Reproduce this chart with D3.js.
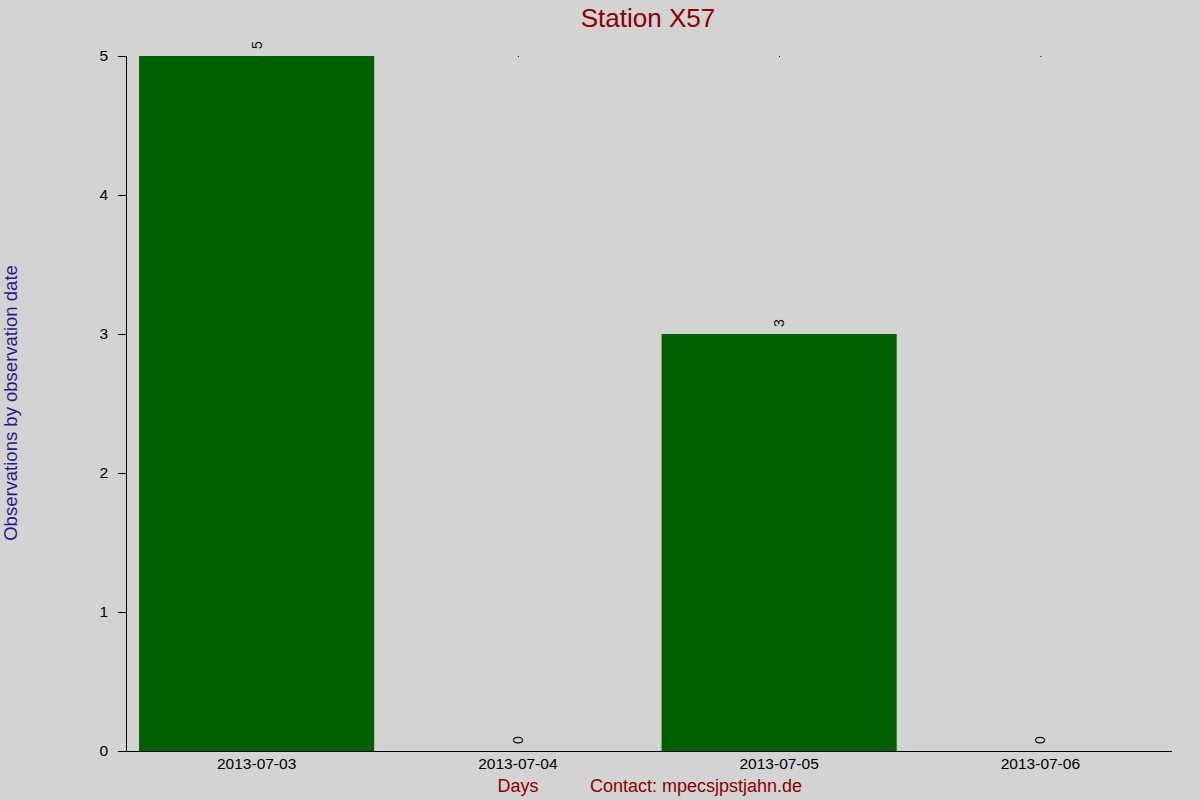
<!DOCTYPE html>
<html>
<head>
<meta charset="utf-8">
<script src="https://cdn.jsdelivr.net/npm/d3@7"></script>
<style>
  body { margin: 0; background: #d3d3d3; }
  svg { display: block; font-family: "Liberation Sans", Arial, sans-serif; }
</style>
</head>
<body>
<div id="container"></div>
<script>
// chart data
const days = ['2013-07-03', '2013-07-04', '2013-07-05', '2013-07-06'];
const counts = [5, 0, 3, 0];
const yTicks = [0, 1, 2, 3, 4, 5];

const svgWidth = 1200;
const svgHeight = 800;
const plotLeft = 126, plotRight = 1171, plotTop = 56, plotBottom = 751;

const svg = d3.select('#container')
  .append('svg')
  .attr('width', svgWidth)
  .attr('height', svgHeight);

svg.append('rect')
  .attr('width', svgWidth)
  .attr('height', svgHeight)
  .attr('fill', '#d3d3d3');

const xScale = d3.scaleBand()
  .domain(days)
  .range([plotLeft, plotRight])
  .paddingInner(0.1)
  .paddingOuter(0.05);

const yScale = d3.scaleLinear()
  .domain([0, 5])
  .range([plotBottom, plotTop]);

// bars
svg.selectAll('rect.bar')
  .data(days)
  .enter()
  .append('rect')
  .attr('class', 'bar')
  .attr('x', d => xScale(d))
  .attr('y', (d, i) => yScale(counts[i]))
  .attr('width', xScale.bandwidth())
  .attr('height', (d, i) => yScale(0) - yScale(counts[i]))
  .attr('fill', '#006000');

// tiny marks at the top of the plot
svg.selectAll('rect.dot')
  .data(days)
  .enter()
  .append('rect')
  .attr('class', 'dot')
  .attr('x', d => xScale(d) + xScale.bandwidth() / 2)
  .attr('y', yScale(5))
  .attr('width', 1)
  .attr('height', 1)
  .attr('fill', '#000');

// value labels, rotated
svg.selectAll('text.val')
  .data(days)
  .enter()
  .append('text')
  .attr('class', 'val')
  .attr('transform', (d, i) => {
    const x = xScale(d) + xScale.bandwidth() / 2;
    const y = yScale(counts[i]) - 7;
    return `translate(${x},${y}) rotate(-90)`;
  })
  .attr('dy', '0.35em')
  .attr('font-size', 14)
  .attr('fill', '#111')
  .text((d, i) => counts[i]);

// axes
const xAxis = d3.axisBottom(xScale).tickSize(0).tickPadding(7);
const gx = svg.append('g')
  .attr('id', 'x-axis')
  .attr('transform', `translate(0, ${plotBottom})`)
  .call(xAxis);
gx.select('.domain').attr('d', `M${plotLeft - 8},0.5H${plotRight + 1}`).attr('stroke', '#000');
gx.selectAll('text').attr('font-size', 15.5).attr('fill', '#000')
  .style('font-family', '"Liberation Sans", Arial, sans-serif');

const yAxis = d3.axisLeft(yScale).tickValues(yTicks).tickSize(8).tickPadding(10).tickFormat(d3.format('d'));
const gy = svg.append('g')
  .attr('id', 'y-axis')
  .attr('transform', `translate(${plotLeft}, 0)`)
  .call(yAxis);
gy.select('.domain').attr('d', `M0.5,${plotTop}V${plotBottom}`).attr('stroke', '#000');
gy.selectAll('text').attr('font-size', 15.5).attr('fill', '#000')
  .style('font-family', '"Liberation Sans", Arial, sans-serif');

// titles
svg.append('text')
  .attr('x', 648)
  .attr('y', 27)
  .attr('text-anchor', 'middle')
  .attr('font-size', 26)
  .attr('fill', '#8b0000')
  .text('Station X57');

svg.append('text')
  .attr('transform', 'translate(17, 403) rotate(-90)')
  .attr('text-anchor', 'middle')
  .attr('font-size', 18.5)
  .attr('fill', '#1c1c8c')
  .text('Observations by observation date');

svg.append('text')
  .attr('x', 518)
  .attr('y', 792)
  .attr('text-anchor', 'middle')
  .attr('font-size', 18)
  .attr('fill', '#8b0000')
  .text('Days');

svg.append('text')
  .attr('x', 696)
  .attr('y', 792)
  .attr('text-anchor', 'middle')
  .attr('font-size', 18)
  .attr('fill', '#8b0000')
  .text('Contact: mpecsjpstjahn.de');
</script>
</body>
</html>
